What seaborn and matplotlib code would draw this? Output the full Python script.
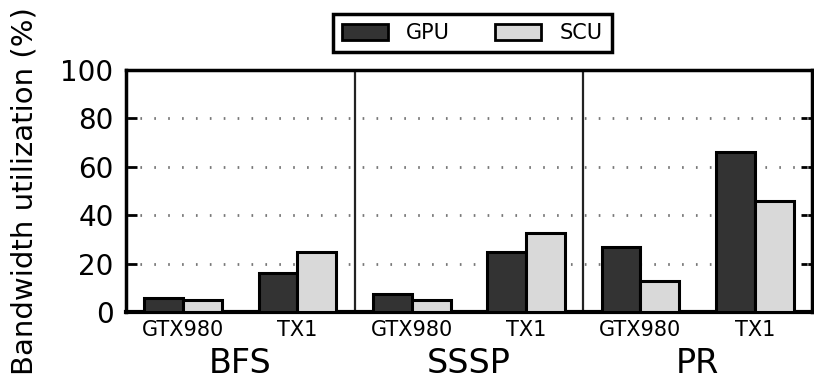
import matplotlib
matplotlib.use("Agg")
import matplotlib.pyplot as plt
import matplotlib.transforms as mtransforms
import seaborn as sns
import pandas as pd

# Benchmarks, platforms and measured bandwidth utilization (%)
benchmarks = ["BFS", "SSSP", "PR"]
platforms = ["GTX980", "TX1"]
systems = ["GPU", "SCU"]
gpu_util = [5.9, 16.2, 7.4, 25.0, 27.0, 66.2]
scu_util = [5.0, 24.7, 5.0, 32.6, 13.0, 45.9]
y_ticks = [0, 20, 40, 60, 80, 100]
palette = {"GPU": "#333333", "SCU": "#d9d9d9"}

keys = [f"{b}-{p}" for b in benchmarks for p in platforms]
df = pd.DataFrame({
    "key": keys * 2,
    "system": ["GPU"] * len(keys) + ["SCU"] * len(keys),
    "util": gpu_util + scu_util,
})

sns.set_style("white")
plt.rcParams["font.family"] = ["DejaVu Sans"]
for k in ["text.color", "axes.labelcolor", "xtick.color", "ytick.color"]:
    plt.rcParams[k] = "black"

fig = plt.figure(figsize=(8.14, 3.80), dpi=100)
ax = fig.add_axes([0.1548, 0.1789, 0.8427, 0.6369])

sns.barplot(data=df, x="key", y="util", hue="system", order=keys,
            hue_order=systems, palette=palette, width=0.68,
            edgecolor="black", linewidth=2.2, saturation=1, ax=ax, zorder=3)

ax.set_xlim(-0.5, len(keys) - 0.5)
ax.set_ylim(0, 100)
ax.set_yticks(y_ticks)
ax.set_xticks(range(len(keys)))
ax.set_xticklabels(platforms * len(benchmarks), fontsize=15)
ax.tick_params(axis="x", length=0, pad=6)
ax.tick_params(axis="y", direction="in", length=8, width=2, labelsize=20,
               left=True, right=True, pad=9)

# dotted horizontal grid behind the bars
for v in y_ticks[1:-1]:
    ax.axhline(v, color="#777777", lw=2, linestyle=(0, (0.6, 4.4)), zorder=1)

# separators between benchmarks
for xv in [1.5, 3.5]:
    ax.axvline(xv, color="#222222", lw=1.6, zorder=2)

for side in ["top", "bottom", "left", "right"]:
    ax.spines[side].set_visible(True)
    ax.spines[side].set_color("black")
    ax.spines[side].set_linewidth(2.5)
ax.spines["bottom"].set_linewidth(3)

ax.set_xlabel("")
ax.set_ylabel("Bandwidth utilization (%)", fontsize=21)
ax.yaxis.set_label_coords(-0.127, 0.5)

# benchmark names under each pair of platforms
trans = mtransforms.blended_transform_factory(ax.transData, fig.transFigure)
for i, b in enumerate(benchmarks):
    ax.text(2 * i + 0.5, 1 - 373 / 380, b, transform=trans, ha="center",
            va="baseline", fontsize=24)

sns.move_legend(ax, loc="center", bbox_to_anchor=(0.58, 0.913),
                bbox_transform=fig.transFigure, ncol=2, title=None,
                fontsize=15, frameon=True, fancybox=False, framealpha=1,
                handlelength=2.2, handleheight=0.8, handletextpad=0.86,
                columnspacing=2.2, borderpad=0.45)
leg = ax.get_legend()
leg.get_frame().set_edgecolor("black")
leg.get_frame().set_linewidth(2.5)
for h in leg.legend_handles:
    h.set_edgecolor("black")
    h.set_linewidth(2)

fig.savefig("out.png", dpi=100)
